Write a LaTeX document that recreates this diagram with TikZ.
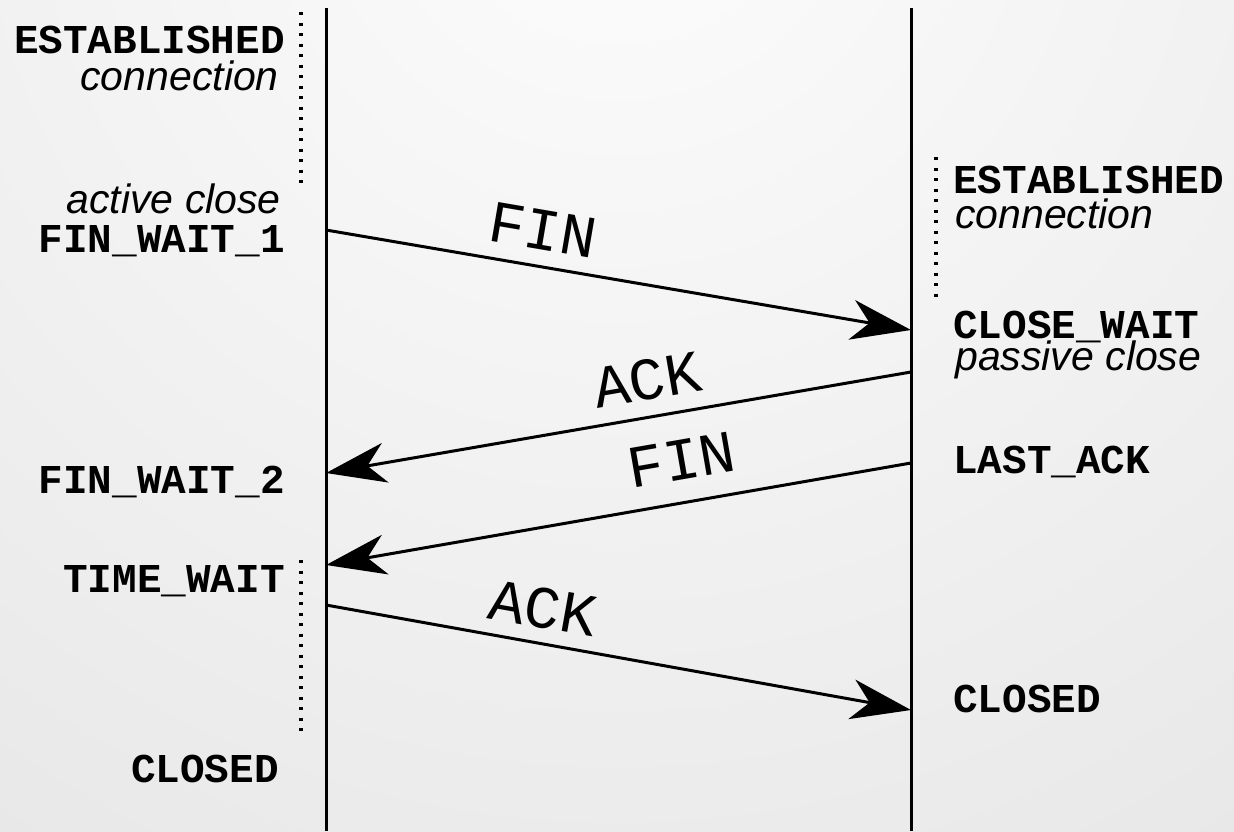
\documentclass[tikz,border=0pt]{standalone}
\usepackage{fontspec}
\setmonofont{Liberation Mono}
\setsansfont{Liberation Sans}
\usetikzlibrary{arrows.meta,calc,positioning}
\definecolor{bginner}{HTML}{FDFDFD}
\definecolor{bgouter}{HTML}{D9D9D9}
\tikzset{
  tcp close/.style = {
    x = 1pt, y = -1pt,
    % lifelines and dotted state spans
    lifeline/.style  = {line width = 3pt},
    wait line/.style = {line width = 3.2pt, dash pattern = on 3pt off 7.5pt},
    % segments
    msg/.style       = {line width = 3pt,
          -{Stealth[length=60pt, width=40pt, inset=18pt]}},
    msg label/.style = {sloped, above = 12pt,
          font = \fontsize{60}{60}\selectfont\ttfamily},
    % states
    state/.style     = {inner sep = 0pt,
          font = \fontsize{41}{41}\selectfont\ttfamily\bfseries},
    note/.style      = {inner sep = 0pt,
          font = \fontsize{41}{41}\selectfont\sffamily\itshape},
  }
}

\begin{document}
\begin{tikzpicture}[tcp close]
  \useasboundingbox (0,0) rectangle (1234,831);
  \begin{scope}
    \clip (0,0) rectangle (1234,831);
    \shade[inner color = bginner, outer color = bgouter] (617,-150) circle (2000);
  \end{scope}

  % lifelines
  \coordinate (lt) at (326,8);   \coordinate (lb) at (326,831);
  \coordinate (rt) at (911,8);   \coordinate (rb) at (911,831);
  \draw[lifeline] (lt) -- (lb);
  \draw[lifeline] (rt) -- (rb);

  \draw[wait line] (301,12)  -- (301,190);
  \draw[wait line] (936,157) -- (936,303);
  \draw[wait line] (301,560) -- (301,738);

  % client side
  \node[state, anchor=base east] (estl)  at (285,53)  {ESTABLISHED};
  \node[note,  anchor=base east] (connl) at (279,90)  {connection};
  \node[note,  anchor=base east] (actcl) at (281,213) {active close};
  \node[state, anchor=base east] (fw1)   at (285,252) {FIN\_WAIT\_1};
  \node[state, anchor=base east] (fw2)   at (285,493) {FIN\_WAIT\_2};
  \node[state, anchor=base east] (tw)    at (285,592) {TIME\_WAIT};
  \node[state, anchor=base east] (closl) at (279,782) {CLOSED};

  % server side
  \node[state, anchor=base west] (estr)  at (953,193) {ESTABLISHED};
  \node[note,  anchor=base west] (connr) at (955,228) {connection};
  \node[state, anchor=base west] (cw)    at (953,338) {CLOSE\_WAIT};
  \node[note,  anchor=base west] (pascl) at (955,370) {passive close};
  \node[state, anchor=base west] (la)    at (953,473) {LAST\_ACK};
  \node[state, anchor=base west] (closr) at (953,712) {CLOSED};

  % segments
  \coordinate (m1s) at (326,230);  \coordinate (m1e) at (911,330);
  \coordinate (m2s) at (911,372);  \coordinate (m2e) at (326,473);
  \coordinate (m3s) at (911,463);  \coordinate (m3e) at (326,565);
  \coordinate (m4s) at (326,605);  \coordinate (m4e) at (911,710);

  \foreach \s/\e/\t/\p/\d [count=\i] in
      {m1s/m1e/FIN/0.36/12pt, m2s/m2e/ACK/0.44/12pt,
       m3s/m3e/FIN/0.38/18pt, m4s/m4e/ACK/0.36/10pt}
    \draw[msg] (\s) -- node[msg label, pos=\p, above=\d] (lab\i) {\t} (\e);
\end{tikzpicture}
\end{document}
